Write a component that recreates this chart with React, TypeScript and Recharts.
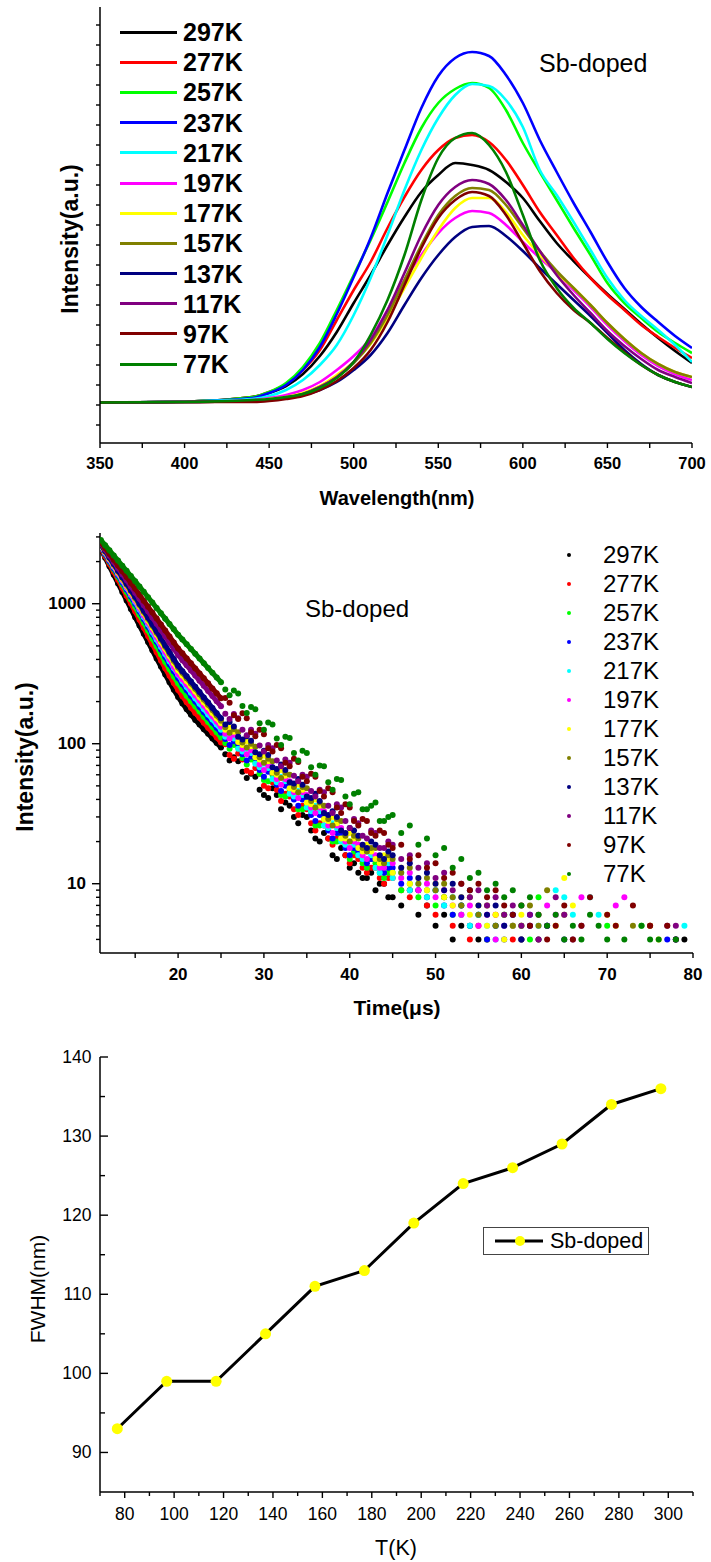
import React from 'react';
import { LineChart, Line, XAxis, YAxis, ScatterChart, Scatter, Legend } from 'recharts';

const FONT = '"Liberation Sans", Arial, Helvetica, sans-serif';
const _ = null;

// ---------- shared series meta ----------
const temperatures = ['297K', '277K', '257K', '237K', '217K', '197K', '177K', '157K', '137K', '117K', '97K', '77K'];
const seriesColors = ['#000000', '#ff0000', '#00ff00', '#0000ff', '#00ffff', '#ff00ff', '#ffff00', '#808000', '#000080', '#800080', '#800000', '#008000'];

// ---------- panel 1 : PL spectra ----------
const wavelengths = [350, 400, 440, 450, 460, 470, 480, 490, 500, 510, 520, 530, 540, 550, 560, 570, 580, 590, 600, 610, 620, 630, 640, 650, 660, 670, 680, 690, 700];
const pl297 = [40.5, 41.5, 46, 50, 57, 69, 87, 111, 140, 168, 198, 226, 251, 268, 280, 278, 273, 261, 245, 222, 200, 182, 165, 149, 134, 119, 105, 92, 80];
const pl277 = [40.5, 41.5, 46, 51, 59, 73, 93, 123, 153, 181, 215, 246, 273, 293, 305, 308, 301, 283, 258, 231, 208, 185, 165, 148, 133, 118, 106, 95, 85];
const pl257 = [40.5, 41.5, 46, 51, 60, 76, 100, 133, 168, 203, 241, 280, 315, 340, 354, 360, 355, 333, 300, 271, 243, 215, 188, 160, 140, 125, 111, 100, 90];
const pl237 = [40.5, 41.5, 45, 50, 58, 73, 96, 129, 166, 205, 250, 293, 335, 367, 385, 391, 387, 368, 340, 303, 271, 240, 211, 181, 155, 136, 121, 107, 95];
const pl217 = [40.5, 41.5, 44, 47, 53, 63, 78, 98, 128, 165, 208, 253, 293, 325, 348, 359, 357, 343, 316, 273, 248, 221, 193, 165, 143, 127, 113, 98, 81];
const pl197 = [40.5, 41, 43, 45, 48, 53, 61, 73, 87, 105, 133, 163, 188, 210, 225, 232, 230, 218, 201, 185, 170, 153, 136, 118, 102, 88, 77, 69, 63];
const pl177 = [40.5, 41, 42, 44, 46, 50, 57, 68, 81, 99, 125, 155, 185, 213, 235, 245, 245, 231, 208, 188, 170, 155, 138, 120, 104, 90, 79, 71, 66];
const pl157 = [40.5, 41, 42, 43, 45, 49, 56, 66, 80, 100, 128, 163, 198, 228, 247, 255, 253, 238, 215, 192, 172, 155, 138, 120, 104, 90, 79, 71, 66];
const pl137 = [40.5, 41, 42, 43, 45, 48, 53, 61, 73, 88, 110, 138, 165, 188, 206, 216, 217, 207, 192, 175, 159, 143, 127, 110, 93, 79, 68, 61, 56];
const pl117 = [40.5, 41, 42, 43, 45, 49, 56, 66, 81, 103, 133, 170, 208, 238, 256, 263, 259, 243, 218, 192, 168, 148, 130, 112, 97, 84, 73, 66, 60];
const pl97 = [40.5, 41, 41, 42, 44, 47, 53, 62, 75, 93, 121, 158, 195, 225, 243, 251, 247, 228, 200, 172, 150, 133, 120, 105, 91, 78, 68, 61, 56];
const pl77 = [40.5, 41, 43, 44, 46, 49, 55, 65, 81, 108, 143, 188, 243, 285, 305, 310, 298, 271, 228, 183, 155, 135, 120, 104, 90, 78, 68, 61, 56];
const plSeries = [pl297, pl277, pl257, pl237, pl217, pl197, pl177, pl157, pl137, pl117, pl97, pl77];

const wlTicks = [350, 375, 400, 425, 450, 475, 500, 525, 550, 575, 600, 625, 650, 675, 700];
const wlMajor = [350, 400, 450, 500, 550, 600, 650, 700];
const plYTicks = [18, 38, 58, 78, 98, 118, 138, 158, 178, 198, 218, 238, 258, 278, 298, 318, 338, 358, 378, 398, 418];

// ---------- panel 2 : decay curves ----------
const decayTimes = [
  11, 11.5, 12, 12.5, 13, 13.5, 14, 14.5, 15, 15.5, 16, 16.5, 17, 17.5, 18, 18.5, 19, 19.5, 20, 20.5, 21, 21.5, 22, 22.5, 23, 23.5, 24, 24.5, 25,
  25.5, 26, 26.5, 27, 27.5, 28, 28.5, 29, 29.5, 30, 30.5, 31, 31.5, 32, 32.5, 33, 33.5, 34, 34.5, 35,
  35.5, 36, 36.5, 37, 37.5, 38, 38.5, 39, 39.5, 40, 40.5, 41, 41.5, 42, 42.5, 43, 43.5, 44, 44.5, 45,
  46, 47, 48, 49, 50, 51, 52, 53, 54, 55, 56, 57, 58, 59, 60, 61, 62, 63, 64, 65, 66, 67, 68, 69, 70,
  71, 72, 73, 74, 75, 76, 77, 78, 79, 80];

const tr297 = [2450, 2130, 1850, 1608, 1397, 1214, 1055, 917, 800, 698, 610, 532, 465, 406, 356, 312, 275, 243, 216, 194, 176, 161, 148, 137, 127, 118, 109, 101, 94,
  84, 76, 80, 75, 63, 57, 61, 58, 47, 43, 41, 48, 43, 34, 38, 36, 30, 27, 31, 30,
  24, 21, 20, 23, 21, 16, 15, 18, 16, 13, 14, 12, 11, 11, 12, 9, 10, 10, 8, 8,
  7, 9, 6, 7, 5, 6, 4, 5, _, 4, _, _, _, _, _, _, _, _, _, _, _, _, _, _, _,
  _, _, _, _, _, _, _, _, 4, _];
const tr277 = [2500, 2194, 1925, 1690, 1483, 1301, 1142, 1002, 880, 769, 673, 588, 514, 450, 393, 346, 306, 271, 242, 218, 198, 181, 166, 153, 141, 130, 120, 111, 102,
  99, 83, 78, 85, 77, 64, 62, 67, 61, 50, 48, 53, 47, 39, 44, 42, 34, 31, 36, 34,
  27, 24, 27, 26, 21, 19, 21, 20, 16, 14, 16, 15, 13, 12, 13, 13, 11, 10, 11, 11,
  9, 8, 9, 7, 6, 8, 5, 6, 4, 5, 4, 6, _, 4, 5, _, _, _, _, _, _, _, _, _, _,
  _, _, _, _, 5, _, _, _, _, _];
const tr257 = [2550, 2254, 1993, 1762, 1557, 1377, 1217, 1076, 951, 834, 732, 643, 565, 496, 435, 384, 340, 302, 270, 243, 220, 201, 185, 170, 156, 143, 132, 121, 111,
  101, 92, 98, 94, 79, 71, 77, 74, 61, 55, 54, 60, 53, 43, 42, 47, 42, 34, 34, 37,
  33, 26, 26, 29, 25, 20, 20, 22, 19, 15, 17, 16, 14, 13, 15, 14, 12, 11, 12, 12,
  9, 10, 8, 9, 7, 8, 6, 7, 5, 6, 4, 5, 6, _, 5, 4, 8, _, _, _, _, _, _, _, 5,
  _, _, _, 5, _, _, _, _, _, _];
const tr237 = [2550, 2268, 2018, 1795, 1597, 1421, 1264, 1124, 1000, 882, 778, 686, 605, 534, 471, 417, 370, 330, 295, 266, 241, 219, 200, 183, 168, 154, 141, 130, 120,
  108, 98, 104, 99, 84, 76, 81, 79, 65, 58, 63, 62, 51, 46, 50, 49, 40, 36, 40, 39,
  31, 28, 31, 30, 24, 21, 23, 23, 18, 16, 18, 17, 15, 14, 15, 15, 13, 12, 13, 13,
  10, 11, 9, 8, 9, 7, 6, 7, 5, 6, 4, 5, 4, 5, 4, 6, _, 5, _, _, _, _, _, _, _,
  _, _, _, _, _, _, 4, 4, _, _];
const tr217 = [2600, 2317, 2064, 1839, 1639, 1460, 1301, 1159, 1033, 911, 805, 712, 629, 556, 492, 437, 389, 347, 311, 280, 254, 231, 211, 193, 177, 162, 149, 137, 126,
  112, 117, 109, 92, 88, 92, 86, 72, 68, 72, 67, 56, 53, 58, 54, 44, 42, 46, 43, 35,
  33, 36, 33, 26, 25, 27, 25, 20, 19, 20, 19, 16, 15, 17, 16, 13, 12, 14, 14, 11,
  12, 9, 10, 8, 9, 7, 8, 6, 5, 6, 5, 4, 5, 6, 4, _, 5, _, 9, 8, 6, _, 8, 6, _,
  _, _, _, _, _, _, _, _, 5, _];
const tr197 = [2600, 2321, 2072, 1850, 1652, 1475, 1317, 1176, 1050, 931, 825, 732, 649, 575, 510, 452, 401, 355, 315, 289, 265, 243, 222, 204, 187, 171, 157, 144, 132,
  118, 109, 116, 110, 92, 84, 90, 86, 71, 65, 70, 68, 56, 51, 56, 54, 45, 41, 45, 43,
  35, 32, 35, 33, 26, 23, 26, 25, 20, 18, 20, 19, 16, 15, 17, 16, 13, 13, 15, 14,
  11, 12, 9, 10, 8, 9, 7, 6, 7, 5, 6, 4, 5, 6, 4, 5, _, 7, 6, _, _, 8, _, _, _,
  7, 8, _, _, _, _, _, _, _, _];
const tr177 = [2620, 2345, 2099, 1879, 1682, 1505, 1347, 1206, 1080, 961, 855, 760, 676, 602, 535, 476, 424, 377, 335, 307, 281, 258, 236, 216, 198, 182, 166, 152, 140,
  126, 131, 122, 103, 98, 104, 96, 80, 77, 82, 75, 62, 60, 65, 59, 48, 47, 51, 47, 38,
  37, 40, 36, 29, 28, 30, 27, 21, 21, 23, 21, 18, 17, 19, 17, 15, 14, 16, 15, 12,
  13, 10, 11, 9, 10, 8, 7, 8, 6, 7, 5, 6, 4, 5, 6, _, 4, _, 5, 11, 7, _, _, _, 6,
  5, _, _, _, _, 4, _, _, _, _];
const tr157 = [2650, 2374, 2127, 1906, 1708, 1530, 1371, 1228, 1100, 981, 875, 780, 696, 620, 553, 493, 440, 392, 350, 321, 294, 269, 247, 226, 207, 190, 174, 159, 146,
  131, 120, 127, 121, 102, 94, 100, 95, 80, 73, 78, 75, 62, 57, 62, 60, 49, 45, 49, 48,
  39, 35, 38, 36, 29, 26, 29, 28, 22, 20, 22, 21, 18, 17, 18, 18, 15, 14, 16, 15,
  12, 13, 10, 11, 9, 10, 8, 7, 8, 6, 7, 5, 6, 5, 4, 7, 5, 9, _, 6, _, _, _, _, _,
  _, _, 5, _, 5, _, _, _, _, _];
const tr137 = [2650, 2380, 2137, 1919, 1723, 1548, 1390, 1248, 1121, 1000, 893, 797, 712, 635, 567, 506, 452, 403, 360, 330, 303, 278, 255, 234, 214, 197, 180, 165, 152,
  137, 143, 133, 112, 107, 113, 105, 87, 84, 89, 83, 68, 66, 71, 65, 53, 52, 56, 51, 42,
  41, 44, 39, 32, 31, 33, 30, 24, 23, 25, 24, 22, 19, 18, 20, 19, 16, 15, 17, 16,
  13, 14, 11, 12, 10, 9, 10, 8, 9, 7, 6, 7, 5, 6, 4, 5, 4, 5, _, 4, _, _, _, _, _,
  _, _, _, _, _, _, _, 4, _, _];
const tr117 = [2700, 2440, 2205, 1992, 1800, 1627, 1470, 1328, 1200, 1083, 977, 882, 796, 719, 649, 585, 528, 477, 430, 395, 363, 334, 307, 282, 259, 238, 219, 201, 185,
  164, 150, 163, 152, 126, 115, 126, 118, 97, 88, 98, 93, 76, 69, 77, 73, 59, 54, 60, 58,
  46, 42, 47, 45, 36, 32, 37, 35, 28, 25, 29, 27, 22, 21, 24, 23, 18, 18, 20, 19,
  15, 16, 13, 14, 11, 12, 9, 10, 8, 9, 7, 8, 6, 7, 5, 6, 4, 5, 8, 6, 4, 5, _, _, _,
  _, _, _, _, _, _, 5, 5, _, _];
const tr97 = [2750, 2499, 2271, 2064, 1876, 1705, 1549, 1408, 1280, 1160, 1052, 953, 864, 783, 710, 643, 583, 529, 479, 442, 407, 375, 345, 318, 293, 270, 248, 229, 211,
  212, 196, 160, 150, 165, 152, 121, 113, 126, 117, 93, 88, 98, 93, 73, 69, 78, 74, 58, 54,
  61, 58, 46, 42, 48, 45, 35, 32, 37, 35, 28, 26, 29, 28, 23, 22, 24, 23, 19, 18,
  19, 15, 16, 13, 14, 11, 12, 10, 9, 10, 8, 9, 7, 6, 7, 5, 6, 4, 5, 7, 4, 5, 8, _, 6,
  5, _, 7, _, 5, _, 5, 4, _, _];
const tr77 = [2850, 2619, 2407, 2212, 2033, 1868, 1717, 1578, 1450, 1328, 1216, 1113, 1019, 933, 855, 782, 716, 656, 600, 555, 513, 475, 439, 406, 376, 347, 321, 297, 275,
  244, 222, 240, 228, 186, 166, 183, 176, 140, 126, 142, 137, 109, 98, 112, 110, 86, 76, 89, 86,
  68, 60, 70, 69, 53, 47, 56, 55, 42, 37, 44, 45, 34, 34, 36, 38, 28, 28, 30, 31,
  23, 26, 19, 21, 16, 18, 13, 15, 11, 12, 9, 10, 8, 9, 7, 8, 6, 5, 6, 4, 5, 4, 6, 5, 4,
  _, 4, _, 5, 4, 4, _, 4, _, _];
const decaySeries = [tr297, tr277, tr257, tr237, tr217, tr197, tr177, tr157, tr137, tr117, tr97, tr77];

const timeTicks = [15, 20, 25, 30, 35, 40, 45, 50, 55, 60, 65, 70, 75, 80];
const timeMajor = [20, 30, 40, 50, 60, 70, 80];
const intensityTicks = [4, 5, 6, 7, 8, 9, 10, 20, 30, 40, 50, 60, 70, 80, 90, 100, 200, 300, 400, 500, 600, 700, 800, 900, 1000, 2000, 3000];
const intensityMajor = [10, 100, 1000];

// ---------- panel 3 : FWHM ----------
const fwhmTemps = [77, 97, 117, 137, 157, 177, 197, 217, 237, 257, 277, 297];
const fwhmValues = [93, 99, 99, 105, 111, 113, 119, 124, 126, 129, 134, 136];
const tempTicks = [70, 80, 90, 100, 110, 120, 130, 140, 150, 160, 170, 180, 190, 200, 210, 220, 230, 240, 250, 260, 270, 280, 290, 300, 310];
const tempMajor = [80, 100, 120, 140, 160, 180, 200, 220, 240, 260, 280, 300];
const fwhmTicks = [90, 95, 100, 105, 110, 115, 120, 125, 130, 135, 140];
const fwhmMajor = [90, 100, 110, 120, 130, 140];

// ---------- built tables ----------
const spectraData = wavelengths.map((wl, i) => {
  const row: Record<string, number> = { wl };
  temperatures.forEach((t, k) => { row[t] = plSeries[k][i]; });
  return row;
});
const decayData = decaySeries.map((arr) =>
  decayTimes.map((t, i) => ({ t, v: arr[i] })).filter((p) => p.v !== null && p.v !== undefined)
);
const decayEarly = decayData.map((pts) => pts.filter((p) => p.t <= 25));
const decayLate = decayData.map((pts) => pts.filter((p) => p.t > 25));
const fwhmData = fwhmTemps.map((T, i) => ({ T, fwhm: fwhmValues[i] }));

// ---------- tick renderer ----------
type TickOpts = {
  side: 'bottom' | 'top' | 'left' | 'right';
  major: number[];
  majorLen: number;
  minorLen: number;
  inward?: boolean;
  showLabel?: boolean;
  gap?: number;
  fontSize?: number;
  bold?: boolean;
  shift?: number;
};

function makeTick(o: TickOpts) {
  return (props: any) => {
    const { x, y, payload } = props;
    const v = Number(payload && payload.value);
    const isMajor = o.major.some((m) => Math.abs(m - v) < 1e-6);
    const len = isMajor ? o.majorLen : o.minorLen;
    const s = o.inward ? -1 : 1;
    const fs = o.fontSize || 16;
    const style: React.CSSProperties = { fontFamily: FONT, fontSize: fs, fontWeight: o.bold ? 700 : 400, fill: '#000' };
    let line: React.ReactNode = null;
    let label: React.ReactNode = null;
    if (o.side === 'bottom') {
      line = <line x1={x} x2={x} y1={y} y2={y + s * len} stroke="#000" strokeWidth={1.4} />;
      if (o.showLabel && isMajor) label = <text x={x} y={y + (o.gap || 20)} textAnchor="middle" style={style}>{v}</text>;
    } else if (o.side === 'top') {
      line = <line x1={x} x2={x} y1={y} y2={y - s * len} stroke="#000" strokeWidth={1.4} />;
    } else if (o.side === 'left') {
      line = <line x1={x} x2={x - s * len} y1={y} y2={y} stroke="#000" strokeWidth={1.4} />;
      if (o.showLabel && isMajor) label = <text x={x - (o.gap || 10)} y={y + (o.shift || 6)} textAnchor="end" style={style}>{v}</text>;
    } else {
      line = <line x1={x} x2={x + s * len} y1={y} y2={y} stroke="#000" strokeWidth={1.4} />;
    }
    return <g>{line}{label}</g>;
  };
}

const axisStroke = { stroke: '#000', strokeWidth: 1.5 };
const bare = { tickSize: 0, tickMargin: 0, tickLine: false, interval: 0 as const, allowDataOverflow: true, axisLine: axisStroke };

// ---------- legends ----------
function SpectraLegend() {
  return (
    <div style={{ fontFamily: FONT }}>
      {temperatures.map((t, k) => (
        <div key={t} style={{ display: 'flex', alignItems: 'center', height: 30.2 }}>
          <div style={{ width: 57, height: 3, background: seriesColors[k] }} />
          <span style={{ marginLeft: 6, fontSize: 25, fontWeight: 700, lineHeight: '30.2px', color: '#000' }}>{t}</span>
        </div>
      ))}
    </div>
  );
}

function DecayLegend() {
  return (
    <div style={{ fontFamily: FONT }}>
      {temperatures.map((t, k) => (
        <div key={t} style={{ display: 'flex', alignItems: 'center', height: 29 }}>
          <div style={{ width: 4, height: 4, borderRadius: 2, background: seriesColors[k] }} />
          <span style={{ marginLeft: 32, fontSize: 24, lineHeight: '29px', color: '#000' }}>{t}</span>
        </div>
      ))}
    </div>
  );
}

function FwhmLegend() {
  return (
    <div style={{ fontFamily: FONT, width: 164, height: 26, border: '1px solid #444', background: '#fff', display: 'flex', alignItems: 'center' }}>
      <svg width={48} height={12} style={{ marginLeft: 11 }}>
        <line x1={0} x2={48} y1={6} y2={6} stroke="#000" strokeWidth={3} />
        <circle cx={25} cy={6} r={5} fill="#ffff00" />
      </svg>
      <span style={{ marginLeft: 7, fontSize: 21.5, color: '#000', lineHeight: '26px' }}>Sb-doped</span>
    </div>
  );
}

// ---------- panels ----------
function SpectraPanel() {
  return (
    <LineChart width={711} height={520} data={spectraData} margin={{ top: 7, right: 19, bottom: 17, left: 60 }}>
      <XAxis dataKey="wl" type="number" domain={[350, 700]} ticks={wlTicks} height={60} {...bare}
        tick={makeTick({ side: 'bottom', major: wlMajor, majorLen: 5, minorLen: 5, showLabel: true, gap: 26, fontSize: 16.5, bold: true })} />
      <XAxis xAxisId="top" orientation="top" type="number" domain={[350, 700]} ticks={wlTicks} height={0} {...bare}
        tick={makeTick({ side: 'top', major: wlMajor, majorLen: 4, minorLen: 4, inward: true })} />
      <YAxis type="number" domain={[0, 436]} ticks={plYTicks} width={40} {...bare}
        tick={makeTick({ side: 'left', major: [], majorLen: 4, minorLen: 4 })} />
      <YAxis yAxisId="right" orientation="right" type="number" domain={[0, 436]} ticks={plYTicks} width={0} {...bare}
        tick={makeTick({ side: 'right', major: [], majorLen: 3, minorLen: 3 })} />
      {temperatures.map((t, k) => (
        <Line key={t} dataKey={t} type="monotone" stroke={seriesColors[k]} strokeWidth={2.6} dot={false} activeDot={false} isAnimationActive={false} />
      ))}
      <Legend layout="vertical" align="center" verticalAlign="middle" content={<SpectraLegend />}
        wrapperStyle={{ left: 120, top: 17, width: 'auto', height: 'auto' }} />
    </LineChart>
  );
}

function DecayPanel() {
  const series: React.ReactNode[] = [];
  temperatures.forEach((t, k) => {
    const c = seriesColors[k];
    series.push(
      <Scatter key={t + '-early'} name={t} data={decayEarly[k]} fill={c} isAnimationActive={false}
        line={{ stroke: c, strokeWidth: 5 }} lineType="joint"
        shape={(p: any) => <circle cx={p.cx} cy={p.cy} r={3} fill={c} />} />
    );
    series.push(
      <Scatter key={t + '-late'} name={t + ' '} data={decayLate[k]} fill={c} isAnimationActive={false}
        shape={(p: any) => <circle cx={p.cx} cy={p.cy} r={3} fill={c} />} />
    );
  });
  return (
    <ScatterChart width={711} height={510} margin={{ top: 13, right: 18, bottom: 17, left: 40 }}>
      <XAxis dataKey="t" type="number" domain={[10.9, 80]} ticks={timeTicks} height={60} {...bare}
        tick={makeTick({ side: 'bottom', major: timeMajor, majorLen: 5, minorLen: 5, showLabel: true, gap: 27, fontSize: 17, bold: true })} />
      <XAxis xAxisId="top" orientation="top" type="number" domain={[10.9, 80]} ticks={timeTicks} height={0} {...bare}
        tick={makeTick({ side: 'top', major: timeMajor, majorLen: 4, minorLen: 4, inward: true })} />
      <YAxis dataKey="v" type="number" scale="log" domain={[3.2, 3200]} ticks={intensityTicks} width={60} {...bare}
        tick={makeTick({ side: 'left', major: intensityMajor, majorLen: 8, minorLen: 4, showLabel: true, gap: 14, fontSize: 17, bold: true, shift: 5 })} />
      <YAxis yAxisId="right" orientation="right" type="number" scale="log" domain={[3.2, 3200]} ticks={intensityTicks} width={0} {...bare}
        tick={makeTick({ side: 'right', major: intensityMajor, majorLen: 6, minorLen: 3 })} />
      {series}
      <Legend layout="vertical" align="center" verticalAlign="middle" content={<DecayLegend />}
        wrapperStyle={{ left: 567, top: 20, width: 'auto', height: 'auto' }} />
    </ScatterChart>
  );
}

function FwhmPanel() {
  return (
    <LineChart width={711} height={532} data={fwhmData} margin={{ top: 27, right: 18, bottom: 10, left: 40 }}>
      <XAxis dataKey="T" type="number" domain={[70, 310]} ticks={tempTicks} height={60} {...bare}
        tick={makeTick({ side: 'bottom', major: tempMajor, majorLen: 6, minorLen: 4, showLabel: true, gap: 28, fontSize: 17.5 })} />
      <XAxis xAxisId="top" orientation="top" type="number" domain={[70, 310]} height={0} {...bare} tick={false} />
      <YAxis type="number" domain={[85, 140]} ticks={fwhmTicks} width={60} {...bare}
        tick={makeTick({ side: 'left', major: fwhmMajor, majorLen: 8, minorLen: 5, inward: true, showLabel: true, gap: 8.5, fontSize: 17.5, shift: 6 })} />
      <YAxis yAxisId="right" orientation="right" type="number" domain={[85, 140]} ticks={fwhmTicks} width={0} {...bare}
        tick={makeTick({ side: 'right', major: fwhmMajor, majorLen: 3, minorLen: 2 })} />
      <Line dataKey="fwhm" type="linear" stroke="#000" strokeWidth={3} isAnimationActive={false}
        dot={{ r: 5.5, fill: '#ffff00', stroke: 'none' }} activeDot={false} />
      <Legend layout="vertical" align="center" verticalAlign="middle" content={<FwhmLegend />}
        wrapperStyle={{ left: 483, top: 197, width: 'auto', height: 'auto' }} />
    </LineChart>
  );
}

const boldTitle: React.CSSProperties = { fontFamily: FONT, fontWeight: 700, fill: '#000' };
const plainTitle: React.CSSProperties = { fontFamily: FONT, fontWeight: 400, fill: '#000' };

export default function App() {
  return (
    <div style={{ position: 'absolute', left: 0, top: 0, width: 711, height: 1562, background: '#fff', overflow: 'hidden' }}>
      <div style={{ position: 'absolute', left: 0, top: 0 }}><SpectraPanel /></div>
      <div style={{ position: 'absolute', left: 0, top: 520 }}><DecayPanel /></div>
      <div style={{ position: 'absolute', left: 0, top: 1030 }}><FwhmPanel /></div>
      <svg width={711} height={1562} style={{ position: 'absolute', left: 0, top: 0, pointerEvents: 'none' }}>
        <text x={70} y={239} dy="0.355em" transform="rotate(-90 70 239)" textAnchor="middle" style={{ ...boldTitle, fontSize: 23 }}>Intensity(a.u.)</text>
        <text x={397} y={498} dy="0.355em" textAnchor="middle" style={{ ...boldTitle, fontSize: 20 }}>Wavelength(nm)</text>
        <text x={539} y={71.7} style={{ ...plainTitle, fontSize: 25 }}>Sb-doped</text>

        <text x={25} y={757} dy="0.355em" transform="rotate(-90 25 757)" textAnchor="middle" style={{ ...boldTitle, fontSize: 23 }}>Intensity(a.u.)</text>
        <text x={397} y={1008} dy="0.355em" textAnchor="middle" style={{ ...boldTitle, fontSize: 21 }}>Time(μs)</text>
        <text x={305} y={617} style={{ ...plainTitle, fontSize: 24 }}>Sb-doped</text>

        <text x={38} y={1289} dy="0.355em" transform="rotate(-90 38 1289)" textAnchor="middle" style={{ ...plainTitle, fontSize: 21 }}>FWHM(nm)</text>
        <text x={396} y={1547} dy="0.355em" textAnchor="middle" style={{ ...plainTitle, fontSize: 21.5 }}>T(K)</text>
      </svg>
    </div>
  );
}
